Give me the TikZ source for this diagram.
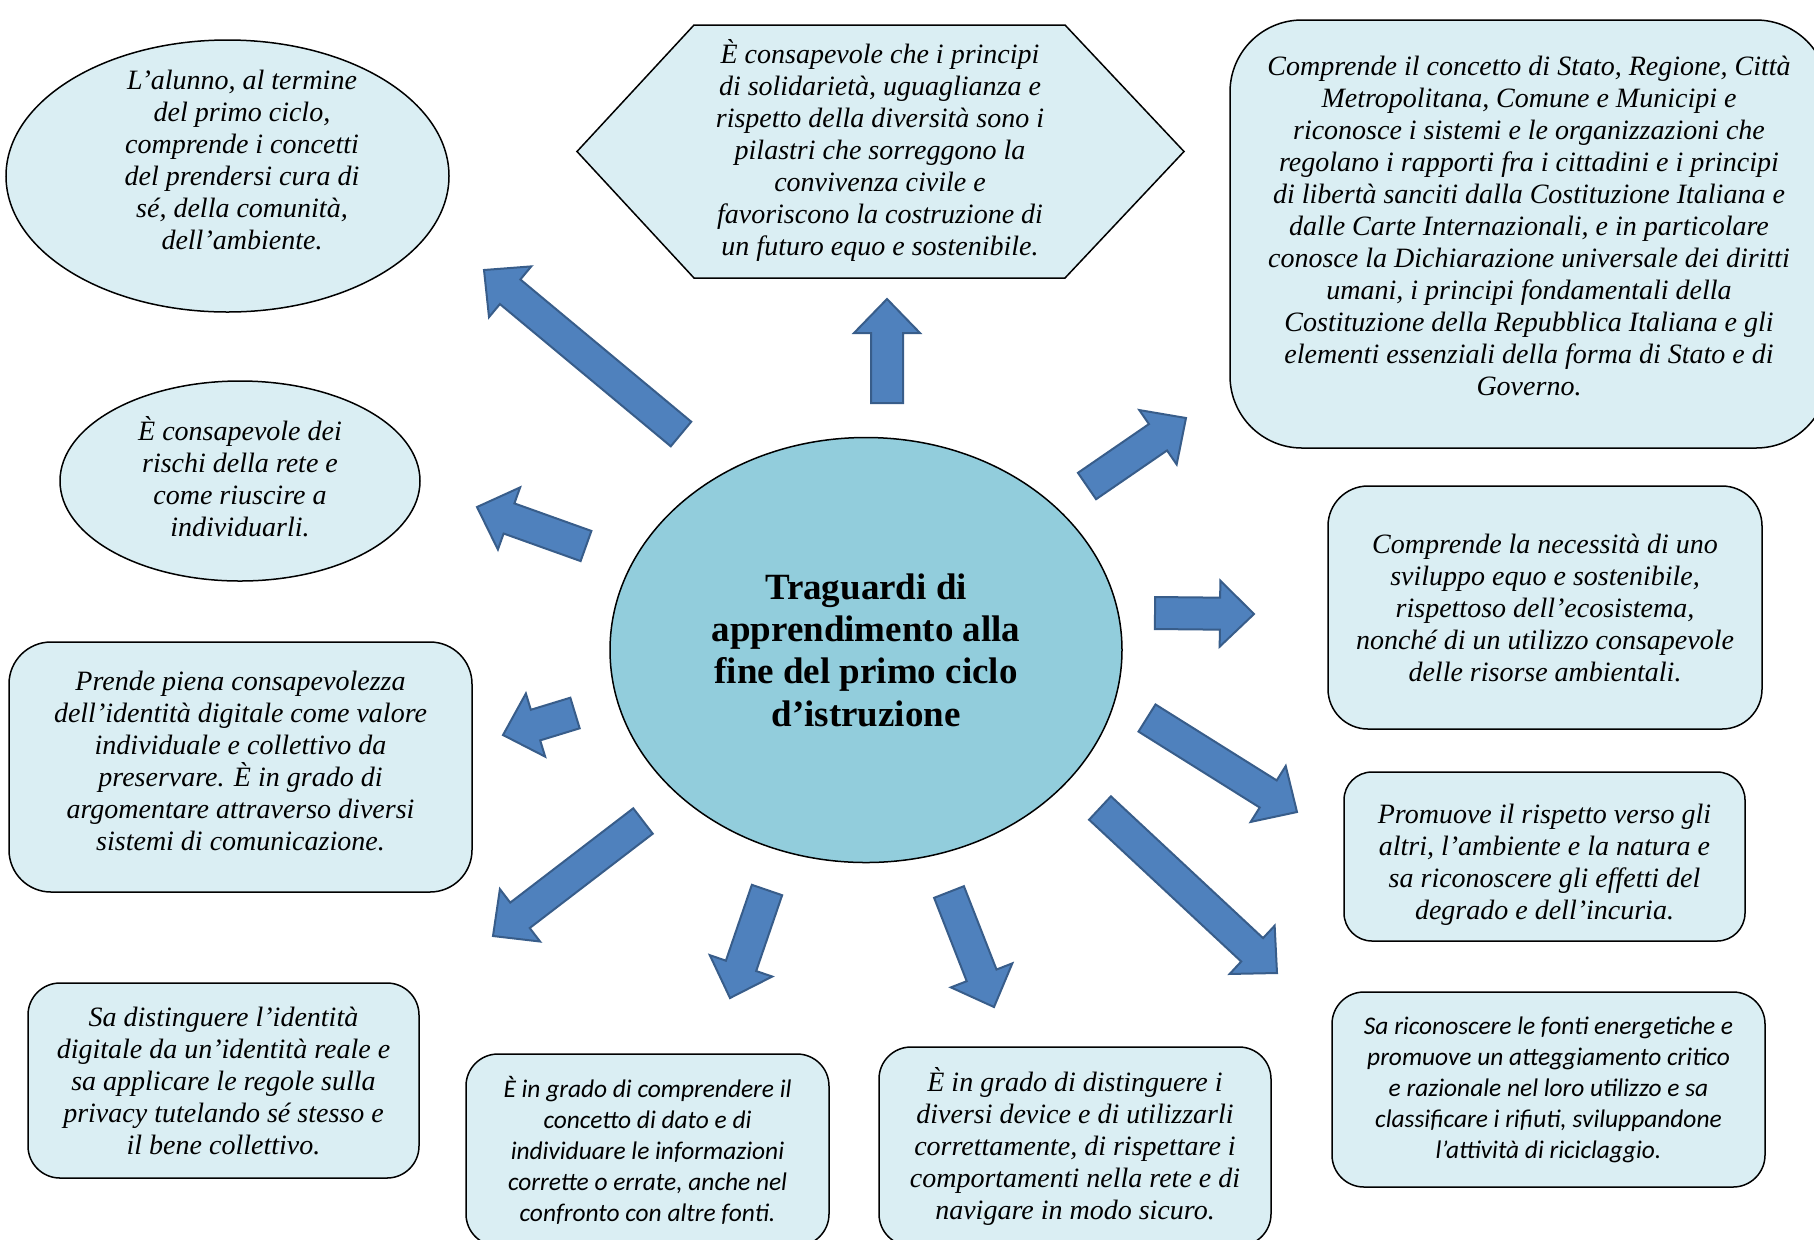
\documentclass[tikz,border=0pt]{standalone}
\usepackage{fontspec}
\setmainfont{Liberation Serif}
\newfontfamily\calfont{Carlito}
\usetikzlibrary{shapes.geometric,calc}

\definecolor{boxblue}{HTML}{DAEEF3}
\definecolor{coreblue}{HTML}{92CDDC}
\definecolor{arrowblue}{HTML}{4F81BD}
\definecolor{arrowedge}{HTML}{385D8A}

\newcommand{\bigarrow}[2]{%
  \coordinate (hd) at ($(#2)!17pt!(#1)$);
  \draw[blockarrow] ($(#1)!8pt!90:(#2)$) -- ($(hd)!8pt!90:(#2)$) -- ($(hd)!16.5pt!90:(#2)$) -- (#2)
    -- ($(hd)!16.5pt!-90:(#2)$) -- ($(hd)!8pt!-90:(#2)$) -- ($(#1)!8pt!-90:(#2)$) -- cycle;}

\begin{document}
\begin{tikzpicture}[x=0.5pt, y=-0.5pt,
    goal/.style = {draw, fill=boxblue, line width=0.75pt, align=center, inner sep=0pt, font=\itshape\fontsize{14}{16}\selectfont},
    oval/.style = {goal, ellipse},
    card/.style = {goal, rectangle, rounded corners=#1},
    calibri/.style = {font=\calfont\itshape\fontsize{12.7}{15.5}\selectfont},
    blockarrow/.style = {fill=arrowblue, draw=arrowedge, line width=1pt, line join=miter}]
        \useasboundingbox (0,0) rectangle (1814,1239);
        \fill[white] (0,0) rectangle (1814,1239);
        \clip (0,0) rectangle (1814,1239);

        \node[oval, fill=coreblue, minimum width=256pt, minimum height=212.5pt, font=\bfseries\fontsize{18.5}{21.2}\selectfont] (core) at (866,650) {Traguardi di\\apprendimento alla\\fine del primo ciclo\\d’istruzione};

        \node[oval, minimum width=221.5pt, minimum height=136pt] (cura) at (227.5,176) {};
        \node[goal, draw=none, fill=none] (curatext) at (242,160) {L’alunno, al termine\\del primo ciclo,\\comprende i concetti\\del prendersi cura di\\sé, della comunità,\\dell’ambiente.};
        \node[oval, minimum width=180pt, minimum height=100pt] (rischi) at (240,481) {È consapevole dei\\rischi della rete e\\come riuscire a\\individuarli.\\[-11pt]\mbox{}};

        \draw[goal] (577,151.5) -- (694,25) -- (1065,25) -- (1184,151.5) -- (1065,278) -- (694,278) -- cycle;
        \node[goal, draw=none, fill=none] (solid) at (880,150) {È consapevole che i principi\\di solidarietà, uguaglianza e\\rispetto della diversità sono i\\pilastri che sorreggono la\\convivenza civile e\\favoriscono la costruzione di\\un futuro equo e sostenibile.};

        \node[card=36pt, minimum width=299pt, minimum height=214pt] (stato) at (1529,234) {Comprende il concetto di Stato, Regione, Città\\Metropolitana, Comune e Municipi e\\riconosce i sistemi e le organizzazioni che\\regolano i rapporti fra i cittadini e i principi\\di libertà sanciti dalla Costituzione Italiana e\\dalle Carte Internazionali, e in particolare\\conosce la Dichiarazione universale dei diritti\\umani, i principi fondamentali della\\Costituzione della Repubblica Italiana e gli\\elementi essenziali della forma di Stato e di\\Governo.\\[-8pt]\mbox{}};
        \node[card=20pt, minimum width=217pt, minimum height=121.5pt] (sviluppo) at (1545,607.5) {Comprende la necessità di uno\\sviluppo equo e sostenibile,\\rispettoso dell’ecosistema,\\nonché di un utilizzo consapevole\\delle risorse ambientali.};
        \node[card=21pt, minimum width=231.5pt, minimum height=125pt] (identita) at (240.5,767) {Prende piena consapevolezza\\dell’identità digitale come valore\\individuale e collettivo da\\preservare. È in grado di\\argomentare attraverso diversi\\sistemi di comunicazione.\\[-10pt]\mbox{}};
        \node[card=14pt, minimum width=200.5pt, minimum height=84.5pt] (rispetto) at (1544.5,856.5) {\mbox{}\\[1.5pt]Promuove il rispetto verso gli\\altri, l’ambiente e la natura e\\sa riconoscere gli effetti del\\degrado e dell’incuria.};
        \node[card=16pt, minimum width=195.5pt, minimum height=97.5pt] (privacy) at (223.5,1080.5) {Sa distinguere l’identità\\digitale da un’identità reale e\\sa applicare le regole sulla\\privacy tutelando sé stesso e\\il bene collettivo.};
        \node[card=16pt, calibri, minimum width=181.5pt, minimum height=96pt] (dato) at (647.5,1150) {È in grado di comprendere il\\concetto di dato e di\\individuare le informazioni\\corrette o errate, anche nel\\confronto con altre fonti.};
        \node[card=16pt, minimum width=196pt, minimum height=99.5pt] (device) at (1075,1146.5) {È in grado di distinguere i\\diversi device e di utilizzarli\\correttamente, di rispettare i\\comportamenti nella rete e di\\navigare in modo sicuro.};
        \node[card=16pt, calibri, minimum width=216.5pt, minimum height=97.5pt] (fonti) at (1548.5,1089.5) {Sa riconoscere le fonti energetiche e\\promuove un atteggiamento critico\\e razionale nel loro utilizzo e sa\\classificare i rifiuti, sviluppandone\\l’attività di riciclaggio.};

        \coordinate (a1s) at (681,434);   \coordinate (a1e) at (484,270);
        \coordinate (a2s) at (887,403);   \coordinate (a2e) at (887,299);
        \coordinate (a3s) at (1087,486);  \coordinate (a3e) at (1186,418);
        \coordinate (a4s) at (586,546);   \coordinate (a4e) at (477,507);
        \coordinate (a5s) at (1155,613);  \coordinate (a5e) at (1254,614);
        \coordinate (a6s) at (575,713);   \coordinate (a6e) at (503,735);
        \coordinate (a7s) at (1147,718);  \coordinate (a7e) at (1297,812);
        \coordinate (a8s) at (643,821);   \coordinate (a8e) at (493,936);
        \coordinate (a9s) at (767,890);   \coordinate (a9e) at (730,998);
        \coordinate (a10s) at (949,892);  \coordinate (a10e) at (994,1007);
        \coordinate (a11s) at (1100,808); \coordinate (a11e) at (1277,973);

        \bigarrow{a1s}{a1e}
        \bigarrow{a2s}{a2e}
        \bigarrow{a3s}{a3e}
        \bigarrow{a4s}{a4e}
        \bigarrow{a5s}{a5e}
        \bigarrow{a6s}{a6e}
        \bigarrow{a7s}{a7e}
        \bigarrow{a8s}{a8e}
        \bigarrow{a9s}{a9e}
        \bigarrow{a10s}{a10e}
        \bigarrow{a11s}{a11e}
\end{tikzpicture}
\end{document}
